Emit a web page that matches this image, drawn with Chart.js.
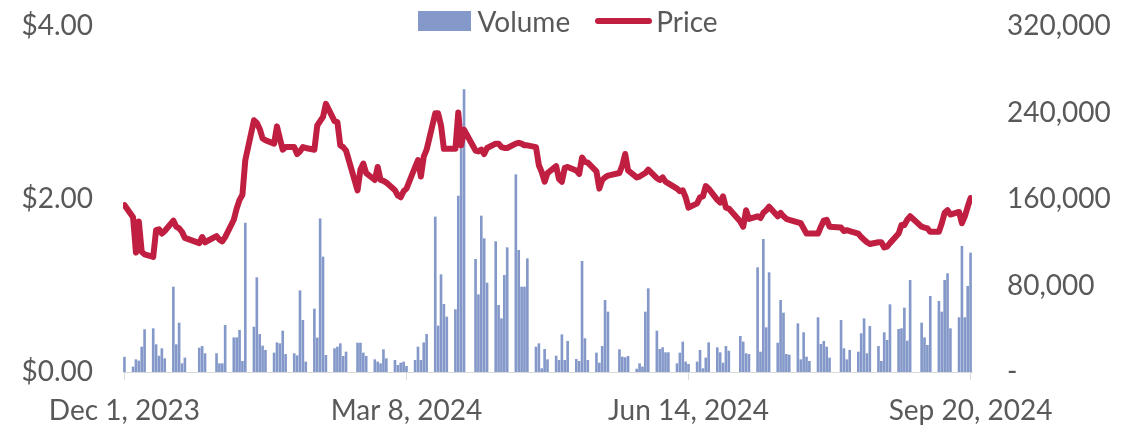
<!DOCTYPE html>
<html>
<head>
<meta charset="utf-8">
<script src="https://cdn.jsdelivr.net/npm/chart.js@4.4.1/dist/chart.umd.min.js"></script>
<style>
  html, body { margin: 0; padding: 0; background: #fff; }
  #wrap { position: relative; width: 1145px; height: 426px; }
  #leyenda {
    position: absolute; top: 7px; left: 0; width: 1136px;
    display: flex; justify-content: center; align-items: center;
    font-family: Lato, sans-serif; font-size: 28px; line-height: 28px; color: #595959;
  }
  #leyenda .item { display: flex; align-items: center; }
  #leyenda .item + .item { margin-left: 25px; }
</style>
</head>
<body>
<div id="wrap">
  <div id="leyenda"></div>
  <canvas id="grafico"></canvas>
</div>
<script>
// Fri Dec 1 2023, then one row per week (Mon..Fri) up to Fri Sep 20 2024
// null = market closed that day
const volume = [
  14000,
  5000, 11700, 10500, 23400, 39500,
  40400, 25600, 15000, 21900, 12600,
  78900, 25600, 45600, 8000, 13300,
  null, null, 22500, 24000, 17300,
  null, 17300, 8000, 8000, 43500,
  32000, 32000, 38900, 10200, 138000,
  41900, 87600, 35100, 24400, 20400,
  17900, 27400, 26500, 38200, 16600,
  17300, 15400, 75500, 48100, 9600,
  58600, 31800, 142000, 106700, 15700,
  21900, 23400, 26500, 14800, 18800,
  null, 27100, 27100, 17900, 14800,
  11700, 9600, 8000, 21000, 12600,
  11100, 6500, 8600, 9600, 5500,
  11100, 23400, 11100, 27400, 35100,
  143700, 42900, 90300, 62900, 51200,
  58000, 163000, 207000, 261500, null,
  104500, 71800, 144600, 123600, 82600,
  120900, 62000, 49600, 89700, 115300,
  182800, 112800, 78900, 78900, 105100,
  23400, 26500, 3400, 21300, 11700,
  15100, 11100, 34800, 11100, 28700,
  12000, 10200, 102700, 31200, 11100,
  17900, 8600, 24000, 66600, 55800,
  null, 21000, 14200, 13600, 14800,
  3000, 8000, 5000, 55800, 77400,
  38200, 21300, 22800, 18200, 18200,
  8000, 17900, 28100, 9600, 7400,
  9600, 20400, 3400, 13300, 27400,
  22800, 18200, 8600, 24000, 19700,
  null, 33300, 28100, 17300, 16600,
  96800, 18800, 123000, 41300, 92200,
  27100, 66600, 54900, 16600, 16000,
  45000, 11700, 36700, 14200, 10200,
  50600, 25900, 28700, 23400, 13300,
  null, 48100, 21900, 11700, 20400,
  18800, 35800, 49600, 17300, 42500,
  24000, 10200, 36700, 29600, 62600,
  39800, 40400, 59500, 29000, 85100,
  null, 45600, 32000, 25000, 70300,
  65700, 55800, 85100, 91300, 40400,
  50600, 116600, 50600, 79600, 110400
];

const price = [
  1.93,
  1.79, 1.38, 1.74, 1.39, 1.36,
  1.33, 1.64, 1.65, 1.60, 1.63,
  1.75, 1.68, 1.66, 1.62, 1.55,
  null, null, 1.49, 1.56, 1.50,
  null, 1.57, 1.53, 1.51, 1.56,
  1.76, 1.89, 1.99, 2.05, 2.45,
  2.91, 2.88, 2.81, 2.70, 2.68,
  2.64, 2.84, 2.70, 2.57, 2.60,
  2.60, 2.52, 2.55, 2.60, 2.59,
  2.57, 2.85, 2.90, 2.95, 3.10,
  2.90, 2.89, 2.62, 2.60, 2.56,
  null, 2.10, 2.34, 2.41, 2.30,
  2.22, 2.37, 2.22, 2.21, 2.19,
  2.10, 2.04, 2.02, 2.09, 2.12,
  2.37, 2.45, 2.26, 2.49, 2.57,
  2.99, 2.99, 2.85, 2.58, 2.58,
  2.58, 3.00, 2.62, 2.80, null,
  2.56, 2.55, 2.57, 2.52, 2.59,
  2.64, 2.64, 2.60, 2.59, 2.59,
  2.64, 2.65, 2.64, 2.62, 2.62,
  2.60, 2.39, 2.31, 2.20, 2.30,
  2.38, 2.23, 2.20, 2.36, 2.37,
  2.33, 2.29, 2.48, 2.43, 2.42,
  2.32, 2.12, 2.22, 2.25, 2.27,
  null, 2.30, 2.39, 2.52, 2.33,
  2.25, 2.26, 2.28, 2.30, 2.34,
  2.24, 2.22, 2.25, 2.20, 2.18,
  2.12, 2.09, 2.10, 2.02, 1.90,
  1.95, 2.02, 2.03, 2.15, 2.12,
  1.99, 1.96, 2.03, 1.90, 1.89,
  null, 1.74, 1.68, 1.87, 1.77,
  1.80, 1.78, 1.84, 1.87, 1.91,
  1.80, 1.84, 1.80, 1.77, 1.76,
  1.73, 1.72, 1.66, 1.60, 1.60,
  1.60, 1.68, 1.75, 1.76, 1.68,
  null, 1.67, 1.63, 1.64, 1.63,
  1.60, 1.56, 1.53, 1.50, 1.48,
  1.50, 1.50, 1.44, 1.45, 1.49,
  1.60, 1.70, 1.70, 1.76, 1.80,
  null, 1.68, 1.67, 1.66, 1.62,
  1.62, 1.72, 1.84, 1.87, 1.82,
  1.85, 1.72, 1.80, 1.91, 2.01
];

// ticks every 14 weeks (days counted from Dec 1, 2023)
const tickDays = [0, 98, 196, 294];
const tickLabels = ['Dec 1, 2023', 'Mar 8, 2024', 'Jun 14, 2024', 'Sep 20, 2024'];

const textColor = '#595959';
const volColor = '#8499c9';
const priceColor = '#c01f41';

document.addEventListener('DOMContentLoaded', function () {
    // slot i -> calendar days since Dec 1 (slot 0 is Friday, then Mon..Fri weeks)
    function dayOffset(i) {
        if (i === 0) return 0;
        const week = Math.floor((i - 1) / 5);
        return 3 + week * 7 + (i - 1) % 5;
    }

    const volPoints = [];
    const pricePoints = [];
    volume.forEach((v, i) => { if (v !== null) volPoints.push({ x: dayOffset(i), y: v }); });
    price.forEach((p, i) => { if (p !== null) pricePoints.push({ x: dayOffset(i), y: p }); });

    // ancho fijo del eje y sin relleno extra arriba/abajo
    function fixAxis(width) {
        return scale => {
            scale.width = width;
            scale.paddingTop = 0;
            scale.paddingBottom = 0;
        };
    }

    Chart.defaults.font.family = 'Lato';
    Chart.defaults.font.size = 28;
    Chart.defaults.color = textColor;

    const ctx = document.getElementById('grafico').getContext('2d');
    const chart = new Chart(ctx, {
        type: 'bar',
        data: {
            datasets: [{
                label: 'Volume',
                type: 'bar',
                data: volPoints,
                yAxisID: 'yVol',
                backgroundColor: volColor,
                categoryPercentage: 1,
                barPercentage: 0.92,
                order: 1
            }, {
                label: 'Price',
                type: 'line',
                data: pricePoints,
                yAxisID: 'y',
                borderColor: priceColor,
                backgroundColor: priceColor,
                borderWidth: 6,
                pointRadius: 0,
                tension: 0,
                borderJoinStyle: 'round',
                borderCapStyle: 'round',
                order: 0
            }]
        },
        options: {
            responsive: true,
            maintainAspectRatio: false,
            animation: false,
            layout: { padding: { top: 26, left: 0, right: 0, bottom: 0 } },
            plugins: {
                legend: { display: false },
                tooltip: { enabled: false }
            },
            scales: {
                x: {
                    type: 'linear',
                    min: -0.5,
                    max: 294.5,
                    offset: false,
                    grid: {
                        offset: false,
                        drawOnChartArea: false,
                        tickLength: 8,
                        color: '#d9d9d9'
                    },
                    border: { color: '#d9d9d9' },
                    afterBuildTicks: scale => {
                        scale.ticks = tickDays.map(v => ({ value: v }));
                    },
                    ticks: {
                        autoSkip: false,
                        maxRotation: 0,
                        padding: 14,
                        callback: (value, index) => tickLabels[index]
                    },
                    afterFit: scale => { scale.height = 54; }
                },
                y: {
                    position: 'left',
                    min: 0,
                    max: 4,
                    grid: { display: false },
                    border: { display: false },
                    ticks: {
                        stepSize: 2,
                        padding: 22,
                        callback: v => '$' + v.toFixed(2)
                    },
                    afterFit: fixAxis(123)
                },
                yVol: {
                    position: 'right',
                    min: 0,
                    max: 320000,
                    grid: { display: false },
                    border: { display: false },
                    ticks: {
                        stepSize: 80000,
                        padding: 27,
                        callback: v => v === 0 ? '-' : v.toLocaleString('en-US')
                    },
                    afterFit: fixAxis(173)
                }
            }
        }
    });

    // Leyenda HTML: barra para Volume, trazo redondeado para Price
    const leyenda = document.getElementById('leyenda');
    chart.data.datasets.forEach(ds => {
        const item = document.createElement('div');
        item.className = 'item';
        const marca = document.createElement('span');
        if (ds.type === 'bar') {
            marca.style.cssText = 'display:inline-block;width:53px;height:20px;margin-right:6px;background:' + ds.backgroundColor;
        } else {
            marca.style.cssText = 'display:inline-block;width:57px;height:6px;border-radius:3px;margin-right:4px;background:' + ds.borderColor;
        }
        const texto = document.createElement('span');
        texto.textContent = ds.label;
        item.appendChild(marca);
        item.appendChild(texto);
        leyenda.appendChild(item);
    });
});
</script>
</body>
</html>
